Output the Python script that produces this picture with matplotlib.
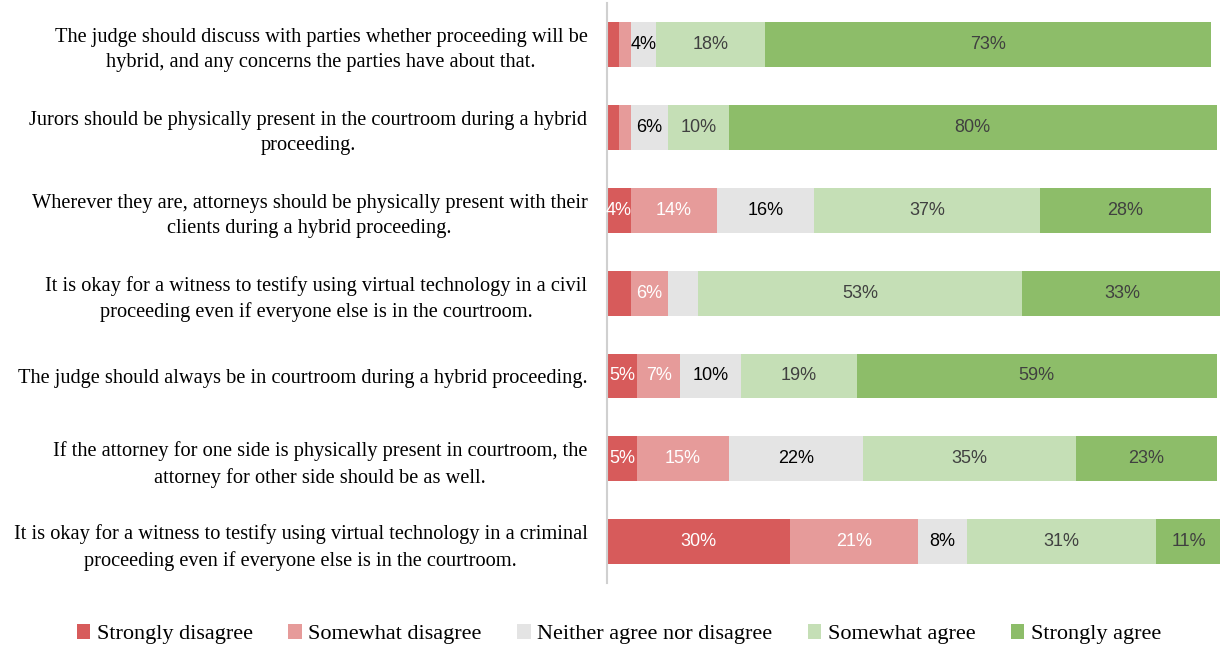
import numpy as np
import matplotlib
matplotlib.use('Agg')
import matplotlib.pyplot as plt

statements = [
    "The judge should discuss with parties whether proceeding will be\nhybrid, and any concerns the parties have about that.",
    "Jurors should be physically present in the courtroom during a hybrid\nproceeding.",
    "Wherever they are, attorneys should be physically present with their\nclients during a hybrid proceeding.",
    "It is okay for a witness to testify using virtual technology in a civil\nproceeding even if everyone else is in the courtroom.",
    "The judge should always be in courtroom during a hybrid proceeding.",
    "If the attorney for one side is physically present in courtroom, the\nattorney for other side should be as well.",
    "It is okay for a witness to testify using virtual technology in a criminal\nproceeding even if everyone else is in the courtroom.",
]

categories = ["Strongly disagree", "Somewhat disagree", "Neither agree nor disagree",
              "Somewhat agree", "Strongly agree"]

strongly_disagree = [2, 2, 4, 4, 5, 5, 30]
somewhat_disagree = [2, 2, 14, 6, 7, 15, 21]
neither = [4, 6, 16, 5, 10, 22, 8]
somewhat_agree = [18, 10, 37, 53, 19, 35, 31]
strongly_agree = [73, 80, 28, 33, 59, 23, 11]

# which segments carry a printed label
show_labels = [
    [False, False, True, True, True],
    [False, False, True, True, True],
    [True, True, True, True, True],
    [False, True, False, True, True],
    [True, True, True, True, True],
    [True, True, True, True, True],
    [True, True, True, True, True],
]

colors = ['#D75B5B', '#E69B9A', '#E4E4E4', '#C5DFB6', '#8DBD69']
text_colors = ['white', 'white', 'black', '#404040', '#404040']

series = [strongly_disagree, somewhat_disagree, neither, somewhat_agree, strongly_agree]

fig = plt.figure(figsize=(12.21, 6.5), dpi=100)
ax = fig.add_axes([0.497, 0.103, 0.502, 0.892])

y = np.arange(len(statements))
left = np.zeros(len(statements))
for i, vals in enumerate(series):
    vals = np.array(vals, dtype=float)
    bars = ax.barh(y, vals, left=left, height=0.54, color=colors[i], label=categories[i])
    for j, b in enumerate(bars):
        if show_labels[j][i]:
            ax.text(left[j] + vals[j] / 2, y[j], f"{int(vals[j])}%", ha='center', va='center',
                    color=text_colors[i], fontsize=13, family='Liberation Sans')
    left += vals

ax.set_xlim(0, 100.5)
ax.set_ylim(6.5, -0.5)
ax.set_xticks([])
ax.set_yticks(y)
ax.set_yticklabels(statements, family='Liberation Serif', fontsize=14.7, linespacing=1.45)
for t in ax.get_yticklabels():
    t.set_multialignment('center')
ax.tick_params(axis='y', length=0, pad=14)
for s in ['top', 'right', 'bottom']:
    ax.spines[s].set_visible(False)
ax.spines['left'].set_color('#D0D0D0')
ax.spines['left'].set_linewidth(1.5)

fig.legend(loc='center', bbox_to_anchor=(0.507, 0.024), ncol=5, frameon=False,
           prop={'family': 'Liberation Serif', 'size': 16}, handlelength=0.6,
           handleheight=0.6, handletextpad=0.3, columnspacing=1.6)

fig.savefig('out.png', dpi=100)
